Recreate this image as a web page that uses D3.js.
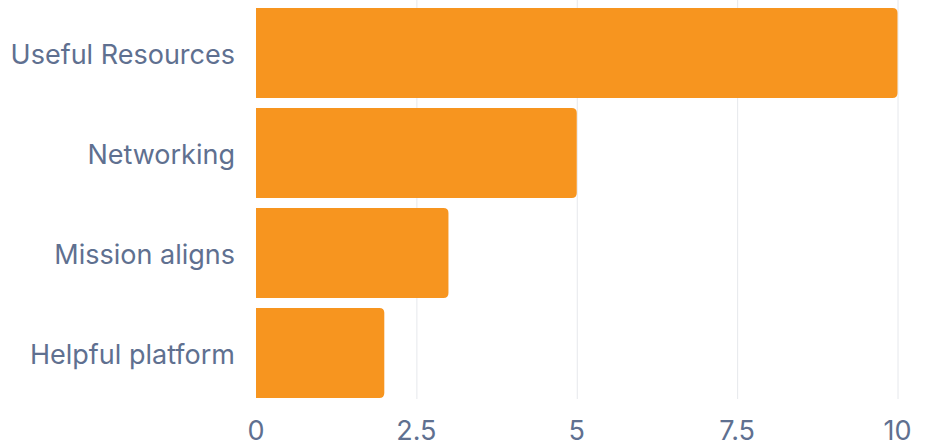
<!DOCTYPE html>
<html>
<head>
<meta charset="utf-8">
<script src="https://cdn.jsdelivr.net/npm/d3@7"></script>
<style>
  body { margin: 0; background: #fff; }
  text { font-family: Inter, "Open Sans", sans-serif; }
</style>
</head>
<body>
<script>
// Data
const categories = ["Useful Resources", "Networking", "Mission aligns", "Helpful platform"];
const values = [10, 5, 3, 2];
const tickValues = [0, 2.5, 5, 7.5, 10];

const width = 931, height = 446;
const margin = { top: 3, right: 34, bottom: 43, left: 256 };

const svg = d3.select("body").append("svg")
    .attr("width", width)
    .attr("height", height);

const x = d3.scaleLinear()
    .domain([0, 10])
    .range([margin.left, width - margin.right + 0.5]);

const y = d3.scaleBand()
    .domain(categories)
    .range([margin.top, height - margin.bottom])
    .paddingInner(0.1)
    .paddingOuter(0.05);

// Grid lines
svg.append("g")
    .selectAll("line")
    .data(tickValues.slice(1))
    .join("line")
    .attr("x1", d => x(d) + 0.5)
    .attr("x2", d => x(d) + 0.5)
    .attr("y1", 0)
    .attr("y2", y.range()[1] - 4)
    .style("stroke", "#e6e8ec")
    .style("stroke-width", 1);

// Bars - rounded on the right only
const r = 5;
function barPath(v, cat) {
    const x0 = x(0), x1 = x(v), y0 = y(cat), h = y.bandwidth();
    return `M${x0},${y0} H${x1 - r} Q${x1},${y0} ${x1},${y0 + r} V${y0 + h - r} Q${x1},${y0 + h} ${x1 - r},${y0 + h} H${x0} Z`;
}

svg.append("g")
    .selectAll("path")
    .data(categories)
    .join("path")
    .attr("d", (c, i) => barPath(values[i], c))
    .style("fill", "#f7951f");

// Category labels
svg.append("g")
    .selectAll("text")
    .data(categories)
    .join("text")
    .attr("x", margin.left - 21)
    .attr("y", d => y(d) + y.bandwidth() / 2 + 1.5)
    .attr("text-anchor", "end")
    .attr("dy", "0.35em")
    .style("font-size", "27px")
    .style("fill", "#5f7090")
    .text(d => d);

// X tick labels
svg.append("g")
    .selectAll("text")
    .data(tickValues)
    .join("text")
    .attr("x", d => x(d))
    .attr("y", 431)
    .attr("text-anchor", "middle")
    .attr("dy", "0.35em")
    .style("font-size", "27px")
    .style("fill", "#5f7090")
    .text(d => d);
</script>
</body>
</html>
